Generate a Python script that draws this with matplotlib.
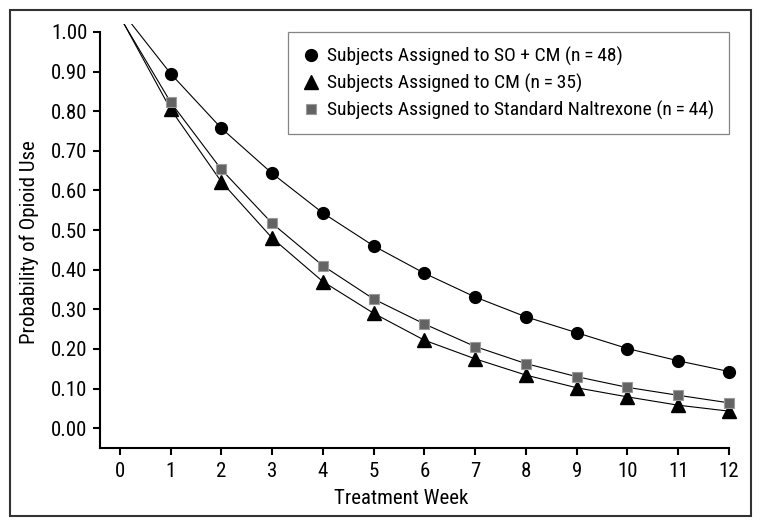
import matplotlib
matplotlib.use("Agg")
import matplotlib.pyplot as plt
from matplotlib.lines import Line2D
from matplotlib.patches import Rectangle

plt.rcParams['font.family'] = ['Roboto Condensed', 'DejaVu Sans']

weeks = [1, 2, 3, 4, 5, 6, 7, 8, 9, 10, 11, 12]
so_cm = [0.895, 0.757, 0.643, 0.543, 0.460, 0.391, 0.331, 0.281, 0.241, 0.201, 0.170, 0.143]
cm = [0.805, 0.622, 0.480, 0.370, 0.290, 0.222, 0.175, 0.134, 0.102, 0.079, 0.058, 0.043]
nal = [0.823, 0.653, 0.517, 0.410, 0.326, 0.263, 0.206, 0.163, 0.130, 0.103, 0.083, 0.064]
# fitted curve value at week 0 (above the top of the plot)
week0 = 0
so_cm0 = 1.058
cm0 = 1.040
nal0 = 1.038

labels = ["Subjects Assigned to SO + CM (n\u2009=\u200948)",
          "Subjects Assigned to CM (n\u2009=\u200935)",
          "Subjects Assigned to Standard Naltrexone (n\u2009=\u200944)"]
xticks = list(range(0, 13))
yticks = [0.0, 0.1, 0.2, 0.3, 0.4, 0.5, 0.6, 0.7, 0.8, 0.9, 1.0]

fig = plt.figure(figsize=(7.62, 5.27), dpi=100)
W, H = 762, 527
ax = fig.add_axes([100 / W, 1 - 448 / H, (729 - 100) / W, (448 - 24) / H])

fig.patches.append(Rectangle((10 / W, 1 - 516 / H), (751 - 10) / W, (516 - 10) / H,
                             transform=fig.transFigure, fill=False,
                             edgecolor='#333333', linewidth=1.5))

for y0, ys in [(so_cm0, so_cm), (nal0, nal), (cm0, cm)]:
    ax.plot([week0] + weeks, [y0] + ys, color='black', lw=0.8)

ax.plot(weeks, cm, linestyle='none', marker='^', ms=9.5, color='black', clip_on=False, zorder=3)
ax.plot(weeks, nal, linestyle='none', marker='s', ms=7.5, markerfacecolor='#636363',
        markeredgecolor='#9a9a9a', markeredgewidth=0.8, clip_on=False, zorder=4)
ax.plot(weeks, so_cm, linestyle='none', marker='o', ms=8.5, color='black', clip_on=False, zorder=5)

ax.set_xlim(-0.39, 12)
ax.set_ylim(-0.05, 1.02)
ax.set_xticks(xticks)
ax.set_yticks(yticks)
ax.set_yticklabels([f"{v:.2f}" for v in yticks])
ax.spines['top'].set_visible(False)
ax.spines['right'].set_visible(False)
ax.spines['left'].set_bounds(-0.05, 1.0)
for s in ['left', 'bottom']:
    ax.spines[s].set_linewidth(1.5)
ax.tick_params(axis='both', direction='out', length=5, width=1.5, labelsize=15, pad=4)
ax.tick_params(axis='x', pad=5)

ax.set_xlabel("Treatment Week", fontsize=15)
ax.set_ylabel("Probability of Opioid Use", fontsize=15)
ax.xaxis.set_label_coords((401 - 100) / 629, -0.097)
ax.yaxis.set_label_coords(-0.097, 0.485)

handles = [Line2D([], [], linestyle='none', marker='o', ms=8.5, color='black'),
           Line2D([], [], linestyle='none', marker='^', ms=9.5, color='black'),
           Line2D([], [], linestyle='none', marker='s', ms=7, markerfacecolor='#636363',
                  markeredgecolor='#9a9a9a', markeredgewidth=0.8)]
leg = fig.legend(handles, labels, loc='upper right', bbox_to_anchor=(729 / W, 1 - 32 / H),
                 frameon=True, fancybox=False, fontsize=14, handlelength=0.8,
                 handletextpad=0.45, borderpad=0.75, labelspacing=0.4, borderaxespad=0)
leg.get_frame().set_edgecolor('#666666')
leg.get_frame().set_linewidth(0.9)

fig.savefig("out.png", dpi=100)
